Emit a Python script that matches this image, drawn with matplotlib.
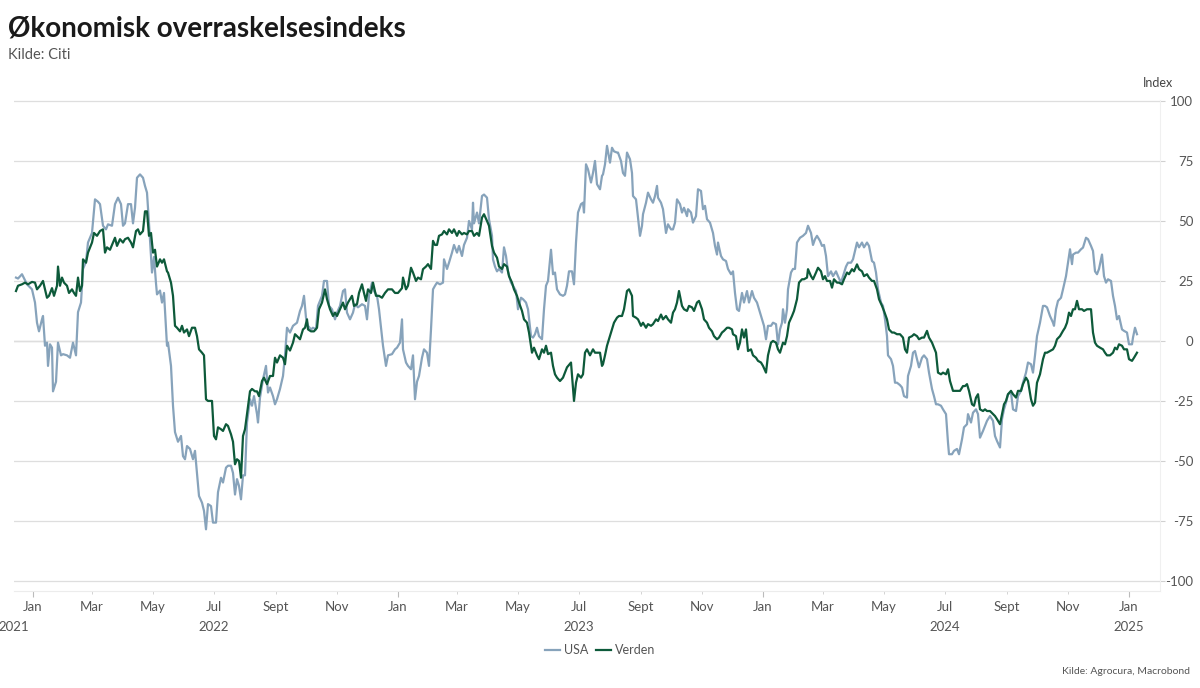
import matplotlib.pyplot as plt
import matplotlib.dates as mdates
import matplotlib.ticker as mticker
import pandas as pd

plt.rcParams['font.family'] = ['Lato', 'DejaVu Sans']

# Citi surprise index.
# (days since 2022-01-01, index value)
base = pd.Timestamp('2022-01-01')

usa_points = [
    (-17, 26.4), (-15, 26.0), (-11, 27.8), (-6, 23.6), (-1, 21.5), (2, 16.0), (4, 7.6), (6, 4.0),
    (9, 9.0), (10, 10.4), (12, -2.0), (14, -0.7), (15, -10.4), (17, -1.4), (19, -2.8), (20, -21.0),
    (23, -17.0), (25, -0.7), (28, -6.0), (30, -5.5), (34, -6.0), (37, -7.0), (40, -0.7), (43, -6.0),
    (45, 12.0), (48, 16.0), (50, 30.0), (53, 33.0), (55, 41.0), (59, 45.0), (62, 59.0), (65, 58.0),
    (67, 57.0), (70, 48.0), (73, 46.5), (75, 48.6), (79, 48.0), (82, 57.0), (85, 59.7), (88, 57.0),
    (90, 48.0), (92, 49.0), (95, 57.0), (98, 57.0), (100, 49.0), (102, 55.5), (104, 68.0), (107, 69.4),
    (110, 68.0), (112, 64.6), (114, 61.8), (116, 49.0), (118, 35.0), (119, 28.5), (121, 35.0),
    (123, 24.0), (124, 19.4), (127, 21.0), (129, 16.0), (131, 20.0), (134, -2.0), (135, -0.7),
    (138, -10.4), (140, -27.0), (142, -38.0), (145, -42.0), (148, -39.6), (150, -48.0), (152, -49.3),
    (154, -43.8), (157, -45.0), (160, -49.3), (162, -45.8), (164, -55.0), (166, -64.6), (169, -67.4),
    (171, -70.8), (173, -78.5), (175, -68.0), (178, -68.8), (180, -75.7), (183, -75.7), (185, -63.0),
    (188, -57.0), (190, -59.0), (193, -52.8), (195, -52.0), (198, -52.0), (200, -55.0), (202, -64.0),
    (204, -57.6), (206, -60.4), (208, -66.0), (210, -56.0), (212, -56.0), (214, -34.0), (217, -24.3),
    (219, -27.0), (221, -23.0), (224, -30.5), (225, -34.0), (227, -23.6), (230, -16.0), (233, -10.4),
    (235, -21.5), (237, -19.4), (240, -23.0), (242, -26.4), (244, -24.3), (247, -20.0), (250, -14.6),
    (252, -6.0), (254, 5.5), (257, 3.5), (260, 6.3), (264, 7.6),
    (267, 12.5), (269, 14.6), (271, 18.8), (273, 9.7), (275, 6.3), (278, 4.8), (280, 5.5), (283, 4.8),
    (285, 14.6), (289, 18.8), (291, 25.0), (294, 25.0), (296, 14.6), (299, 13.2), (302, 9.0),
    (304, 11.8), (307, 14.6), (310, 20.8), (312, 21.5), (314, 11.8), (317, 9.0), (320, 11.8),
    (322, 15.3), (325, 14.0), (329, 15.3), (332, 14.6), (334, 9.0), (336, 18.8), (339, 24.3),
    (341, 20.8), (344, 18.8), (346, 13.2), (349, 2.0), (350, -2.0), (353, -10.4), (355, -6.0),
    (359, -5.5), (362, -3.5), (364, -2.8), (367, -0.7), (369, 9.0), (370, -3.5), (373, -9.0),
    (375, -10.4), (378, -11.8), (380, -6.0), (382, -24.3), (384, -17.0), (386, -14.6), (389, -7.0),
    (391, -3.5), (394, -4.9), (396, -10.4), (398, 4.8), (400, 21.5), (402, 23.0), (404, 24.3),
    (407, 23.6), (410, 24.3), (411, 34.0), (414, 30.0), (416, 32.6), (419, 36.8), (421, 40.0),
    (424, 36.8), (426, 39.6), (429, 35.4), (431, 40.0), (434, 43.0), (436, 50.0), (439, 46.5),
    (440, 57.6), (441, 49.0), (444, 53.5), (446, 49.0), (449, 60.4), (451, 61.0), (454, 59.7),
    (456, 50.7), (459, 43.8), (460, 34.0), (462, 31.0), (464, 29.0), (466, 30.0), (469, 28.5),
    (471, 39.0), (473, 35.4), (475, 29.0), (478, 24.3), (480, 23.0), (483, 20.8), (485, 13.2),
    (488, 18.0), (490, 17.4), (493, 16.0), (495, 13.2), (498, 2.0), (500, 1.4), (502, 2.8), (504, 5.5),
    (506, 2.0), (509, 0.7), (511, 13.2), (513, 23.0), (515, 25.0), (518, 38.0), (520, 27.8),
    (522, 28.5), (524, 21.5), (527, 19.4), (530, 18.8), (532, 19.4), (534, 23.0), (536, 29.0),
    (539, 29.0), (541, 23.6), (543, 41.0), (545, 53.5), (548, 57.0), (550, 57.6), (551, 53.5),
    (553, 73.6), (555, 71.5), (558, 66.0), (560, 70.0), (562, 75.0), (564, 65.3),
    (567, 63.2), (569, 68.8), (570, 69.4), (572, 73.6), (574, 81.3), (575, 79.0), (577, 74.3),
    (579, 80.5), (581, 79.0), (584, 78.5), (585, 78.5), (588, 75.0), (590, 70.0), (592, 68.8),
    (594, 78.5), (597, 75.7), (599, 70.0), (600, 60.4), (603, 59.0), (605, 51.4), (607, 43.8),
    (609, 48.0), (610, 52.8), (613, 57.6), (615, 61.8), (618, 59.0), (620, 57.6), (622, 60.4),
    (624, 64.6), (625, 59.7), (628, 57.6), (630, 54.9), (633, 45.0), (635, 48.6), (638, 46.5),
    (640, 46.5), (642, 49.3), (644, 59.0), (647, 57.0), (649, 53.5), (651, 55.5), (654, 52.0),
    (655, 54.9), (658, 53.5), (660, 49.3), (663, 52.0), (665, 63.2), (668, 62.5), (670, 54.9),
    (672, 56.3), (674, 50.7), (677, 49.3), (680, 45.0), (682, 39.6), (684, 36.0), (685, 41.0),
    (688, 35.4), (690, 34.0), (693, 33.3), (695, 30.0), (698, 27.8), (700, 29.0), (702, 20.0),
    (704, 13.2), (706, 12.5), (709, 20.0), (711, 16.0), (714, 20.8), (716, 16.0), (719, 20.8),
    (721, 18.0), (724, 16.0), (726, 13.2), (729, 9.0), (731, 6.3), (733, 0.7), (735, 6.3), (738, 6.3),
    (740, 7.6), (743, 7.0), (745, -1.4), (747, 4.8), (749, 7.6), (750, 13.2), (752, 7.6), (754, 13.2),
    (755, 21.5), (758, 28.5), (760, 30.0), (762, 30.0), (764, 41.0), (767, 43.0), (770, 43.8),
    (773, 45.0), (775, 48.0), (778, 45.0), (780, 40.0), (782, 42.4), (784, 43.8), (787, 41.7),
    (789, 39.6), (791, 40.0), (793, 35.4), (795, 27.0), (798, 29.0), (800, 27.0), (803, 29.0),
    (805, 27.0), (808, 24.3), (810, 27.0), (813, 31.0), (815, 32.6), (818, 32.6), (820, 34.0),
    (822, 37.5), (824, 41.0), (826, 39.0), (829, 41.0), (831, 39.0), (834, 41.0), (836, 39.6),
    (839, 33.3), (841, 32.6), (843, 28.5), (845, 21.5), (848, 16.0), (850, 14.6), (852, 9.0),
    (854, 2.0), (855, -6.0), (858, -7.6), (860, -10.4), (862, -17.4), (864, -17.4),
    (867, -18.4), (869, -19.4), (871, -23.0), (874, -23.6), (875, -14.6), (878, -10.4), (880, -4.9),
    (882, -4.2), (884, -7.6), (886, -11.0), (889, -7.0), (891, -6.0), (894, -7.6), (896, -13.2),
    (899, -20.0), (901, -23.0), (903, -26.4), (905, -26.4), (908, -27.0), (910, -28.5), (913, -30.5),
    (915, -42.4), (916, -47.2), (919, -47.2), (921, -45.8), (924, -45.0), (926, -47.2), (929, -41.0),
    (931, -36.0), (934, -34.7), (935, -30.5), (938, -34.0), (940, -29.9), (943, -28.5), (945, -30.5),
    (947, -40.3), (950, -37.5), (952, -35.4), (954, -33.3), (957, -31.3), (960, -33.3), (962, -39.6),
    (964, -41.7), (967, -44.4), (969, -32.6), (971, -28.5), (973, -25.7), (975, -22.2), (978, -21.5),
    (980, -28.5), (983, -29.2), (985, -23.0), (988, -20.8), (990, -17.4), (993, -13.2), (995, -9.0),
    (998, -9.7), (1000, -13.2), (1002, -6.0), (1004, 2.0), (1007, 7.6), (1010, 14.6), (1012, 14.6),
    (1014, 14.0), (1017, 10.4), (1020, 7.6), (1021, 6.3), (1023, 13.2), (1025, 16.7), (1028, 18.0),
    (1030, 21.5), (1033, 27.0), (1035, 32.6), (1037, 38.2), (1039, 32.0), (1040, 36.0), (1043, 36.8),
    (1045, 36.8), (1048, 38.2), (1050, 38.9), (1053, 43.0), (1055, 42.4), (1058, 39.6), (1060, 37.5),
    (1062, 29.0), (1064, 27.8), (1066, 30.0), (1069, 36.0), (1071, 27.0), (1073, 24.3), (1075, 25.7),
    (1078, 25.0), (1080, 18.8), (1082, 14.6), (1084, 9.0), (1086, 10.4), (1089, 4.8), (1091, 4.2),
    (1094, 3.5), (1096, -1.4), (1099, -1.4), (1100, 1.4), (1102, 5.5), (1104, 2.8),
]

verden_points = [
    (-17, 20.8), (-15, 23.0), (-11, 23.6), (-8, 24.3), (-5, 23.6), (-1, 24.6), (2, 24.3), (4, 21.5),
    (7, 23.0), (10, 25.0), (14, 18.0), (16, 18.8), (19, 22.0), (21, 18.8), (24, 23.0), (25, 31.0),
    (27, 23.0), (29, 26.4), (31, 24.3), (34, 23.0), (36, 20.0), (39, 21.5), (41, 20.0), (43, 18.8),
    (45, 26.4), (47, 20.8), (49, 23.0), (50, 34.0), (53, 32.6), (55, 36.8), (59, 41.0), (61, 45.0),
    (64, 43.8), (67, 45.8), (70, 46.5), (72, 36.8), (74, 39.0), (77, 38.0), (80, 41.0), (82, 43.0),
    (84, 39.6), (87, 42.4), (90, 41.0), (92, 42.4), (95, 43.0), (98, 41.0), (100, 39.0), (103, 45.8),
    (105, 46.5), (107, 44.4), (110, 45.8), (112, 54.0), (114, 54.0), (116, 43.8), (118, 45.0),
    (120, 36.8), (122, 38.0), (124, 31.0), (127, 34.0), (129, 32.6), (131, 34.0), (134, 29.0),
    (135, 28.5), (138, 24.3), (140, 18.8), (142, 6.3), (144, 5.5), (147, 4.0), (149, 6.3), (151, 3.5),
    (154, 4.8), (156, 2.0), (159, 5.5), (162, 5.5), (164, 2.0), (166, -3.5), (169, -4.9), (171, -6.0),
    (173, -24.3), (175, -25.0), (179, -25.0), (181, -39.6), (183, -41.0), (185, -36.0), (188, -36.8),
    (190, -37.5), (193, -34.7), (195, -35.4), (198, -38.9), (200, -42.0), (202, -51.4), (204, -49.3),
    (206, -50.0), (208, -57.0), (210, -39.6), (212, -36.8), (214, -30.5), (217, -21.0), (219, -20.0),
    (222, -21.0), (224, -21.0), (226, -23.0), (229, -16.7), (231, -15.3), (234, -18.0), (237, -14.6),
    (240, -14.6), (242, -7.0), (244, -9.0), (247, -6.0), (250, -7.0), (252, -9.7), (254, -2.0),
    (257, -4.0), (260, -0.7), (262, 2.8), (264, 2.0),
    (267, 0.7), (270, 4.8), (272, 5.5), (274, 9.0), (275, 4.8), (278, 4.0), (281, 4.0), (284, 5.5),
    (286, 13.2), (289, 16.0), (292, 21.5), (294, 17.4), (297, 13.2), (300, 10.4), (302, 11.8),
    (304, 10.4), (307, 13.2), (310, 16.0), (312, 13.2), (315, 16.0), (319, 18.8), (321, 14.6),
    (324, 15.3), (326, 20.0), (329, 23.6), (331, 20.0), (333, 16.7), (335, 21.5), (338, 20.0),
    (340, 24.3), (343, 18.8), (346, 18.8), (349, 18.0), (352, 20.0), (355, 21.5), (359, 21.5),
    (362, 20.0), (365, 20.0), (369, 22.0), (370, 26.4), (373, 21.5), (375, 23.0), (378, 30.5),
    (380, 28.5), (383, 25.0), (385, 26.4), (388, 25.7), (390, 29.9), (393, 31.0), (395, 32.0),
    (398, 30.0), (400, 41.7), (402, 40.0), (404, 40.0), (406, 43.8), (409, 44.4), (411, 45.8),
    (414, 44.4), (416, 46.5), (419, 45.0), (421, 46.5), (424, 43.8), (426, 45.8), (429, 44.4),
    (431, 45.0), (434, 44.4), (436, 45.8), (439, 45.8), (441, 43.8), (444, 45.0), (446, 43.8),
    (449, 51.4), (451, 52.8), (454, 50.0), (456, 48.0), (459, 39.6), (461, 36.8), (464, 34.7),
    (466, 31.0), (469, 30.0), (471, 32.0), (474, 31.0), (476, 27.0), (479, 24.3), (481, 21.5),
    (484, 18.8), (486, 16.0), (489, 12.5), (491, 9.0), (494, 7.6), (496, 3.5), (499, -4.9),
    (501, -2.8), (504, -6.0), (506, -7.6), (509, -3.5), (511, -4.9), (513, -2.0), (515, -5.5),
    (518, -4.9), (520, -10.4), (522, -13.9), (524, -15.3), (527, -16.7), (530, -15.3), (532, -13.2),
    (534, -11.0), (538, -9.0), (540, -20.0), (541, -25.0), (543, -17.4), (545, -13.9), (548, -15.3),
    (550, -13.9), (552, -4.9), (554, -3.5), (557, -6.0), (560, -3.5), (562, -4.9), (564, -4.9),
    (567, -4.9), (569, -10.4), (570, -9.7), (572, -6.0), (574, -2.0), (576, 0.7), (579, 4.8),
    (581, 7.6), (584, 9.7), (586, 10.4), (589, 10.4), (591, 13.2), (594, 20.8), (596, 21.5),
    (599, 18.8), (600, 10.4), (603, 9.7), (605, 9.0), (608, 6.3), (610, 7.6), (613, 5.5), (615, 7.0),
    (618, 6.3), (620, 7.0), (623, 9.0), (625, 8.3), (628, 11.0), (630, 9.0), (633, 10.4), (635, 9.0),
    (638, 7.6), (640, 11.8), (642, 13.2), (644, 16.0), (646, 20.8), (649, 14.6), (651, 13.2),
    (654, 12.5), (656, 14.6), (659, 14.0), (661, 12.5), (664, 16.0), (666, 16.7), (669, 13.2),
    (671, 9.0), (674, 7.6), (676, 5.5), (679, 4.0), (681, 2.0), (684, 0.7), (686, 1.4), (689, 3.5),
    (691, 4.2), (694, 5.5), (696, 5.5), (699, 4.8), (700, 2.8), (703, 2.0), (705, -3.5), (707, -0.7),
    (709, 4.8), (711, 1.4), (713, 4.8), (715, -4.2), (718, -3.5), (720, -6.0), (723, -7.0),
    (725, -8.3), (728, -9.0), (730, -10.4), (733, -13.2), (735, -6.0), (738, -0.7), (740, 0.0),
    (743, -0.7), (745, -3.5), (747, -4.9), (750, -0.7), (752, -1.4), (754, 2.0), (756, 7.6),
    (759, 10.4), (761, 12.5), (764, 17.4), (766, 24.3), (769, 25.7), (771, 25.7), (774, 26.4),
    (775, 29.9), (778, 27.0), (780, 25.7), (783, 28.5), (785, 30.5), (788, 29.0), (790, 25.7),
    (792, 27.0), (794, 25.0), (797, 25.0), (799, 22.2), (801, 25.7), (804, 24.3), (806, 24.3),
    (809, 23.6), (811, 25.7), (814, 28.5), (816, 27.8), (819, 29.9), (821, 29.0), (824, 31.9),
    (826, 29.9), (829, 29.0), (831, 27.0), (834, 27.8), (836, 26.4), (839, 25.0), (841, 25.0),
    (844, 21.5), (846, 17.4), (849, 14.6), (851, 12.5), (854, 9.0), (856, 4.8), (859, 3.5),
    (861, 3.5), (864, 2.8),
    (867, 2.8), (870, 1.4), (872, -3.5), (874, -4.9), (876, 1.4), (879, 2.0), (881, 2.8), (884, 2.0),
    (886, 0.7), (889, 1.4), (891, 1.4), (894, 4.2), (896, 1.4), (899, -0.7), (901, -2.8), (903, -4.9),
    (905, -13.2), (908, -13.9), (910, -13.2), (913, -13.9), (915, -11.8), (917, -16.7), (920, -20.8),
    (922, -20.8), (924, -20.8), (927, -20.8), (930, -18.8), (932, -18.8), (934, -18.0), (936, -20.8),
    (939, -26.4), (941, -27.0), (943, -23.6), (945, -22.2), (947, -28.5), (950, -29.2), (952, -28.5),
    (954, -29.2), (957, -29.2), (960, -30.5), (962, -31.3), (964, -32.6), (967, -34.7), (969, -30.5),
    (971, -26.4), (973, -25.0), (975, -22.2), (978, -20.8), (980, -22.2), (983, -23.6), (985, -20.8),
    (988, -20.8), (990, -18.0), (993, -15.3), (995, -16.7), (998, -24.3), (1000, -27.0),
    (1002, -25.7), (1004, -17.4), (1007, -13.9), (1010, -7.6), (1012, -4.9), (1014, -4.9),
    (1017, -4.2), (1020, -3.5), (1022, -2.0), (1024, 0.7), (1027, 2.0), (1030, 4.2), (1032, 5.5),
    (1034, 7.6), (1036, 11.8), (1038, 10.4), (1040, 13.2), (1042, 13.2), (1044, 16.7), (1046, 13.2),
    (1049, 13.2), (1051, 12.5), (1054, 13.2), (1056, 13.2), (1058, 13.2), (1060, 3.5), (1062, -0.7),
    (1064, -2.0), (1067, -2.8), (1070, -3.5), (1072, -4.9), (1074, -6.0), (1077, -6.0), (1080, -4.9),
    (1082, -2.8), (1084, -3.5), (1086, -1.4), (1089, -2.0), (1091, -3.5), (1094, -3.5), (1096, -7.6),
    (1099, -8.3), (1101, -7.0), (1104, -4.9),
]

series_names = ['USA', 'Verden']
series_colors = ['#87a3bb', '#0d5a3a']
month_names = {1: 'Jan', 3: 'Mar', 5: 'May', 7: 'Jul', 9: 'Sept', 11: 'Nov'}
y_ticks = [-100, -75, -50, -25, 0, 25, 50, 75, 100]


def to_frame(points):
    df = pd.DataFrame(points, columns=['day', 'value'])
    df['date'] = base + pd.to_timedelta(df['day'], unit='D')
    return df


usa = to_frame(usa_points)
verden = to_frame(verden_points)

fig = plt.figure(figsize=(12, 6.88), dpi=100)
ax = fig.add_axes([14 / 1200, 1 - 591 / 688, (1160 - 14) / 1200, 491 / 688])

for df, name, color in zip([usa, verden], series_names, series_colors):
    ax.plot(df['date'], df['value'], color=color, lw=1.6, label=name,
            solid_joinstyle='round', zorder=3)

ax.set_xlim(base + pd.Timedelta(days=-19), base + pd.Timedelta(days=1127))
ax.set_ylim(-104.2, 100.4)

# y axis on the right, right-aligned labels
ax.yaxis.tick_right()
ax.set_yticks(y_ticks)
ax.yaxis.set_major_formatter(mticker.FuncFormatter(lambda v, p: f'{v:.0f}'))
ax.tick_params(axis='y', which='major', length=3.5, color='#d0d0d0', pad=20.5,
               labelsize=9.5, labelcolor='#555555')
for lab in ax.get_yticklabels():
    lab.set_horizontalalignment('right')
ax.grid(axis='y', color='#dedede', lw=0.9, zorder=0)
ax.axhline(0, color='#c4c4c4', lw=0.9, zorder=1)

# x axis: every second month, Jan ticks a bit longer
ax.xaxis.set_major_locator(mdates.MonthLocator(bymonth=[1]))
ax.xaxis.set_minor_locator(mdates.MonthLocator(bymonth=[3, 5, 7, 9, 11]))
fmt = mticker.FuncFormatter(lambda v, p: month_names[mdates.num2date(v).month])
ax.xaxis.set_major_formatter(fmt)
ax.xaxis.set_minor_formatter(fmt)
ax.tick_params(axis='x', which='major', length=4.5, color='#bbbbbb', pad=3,
               labelsize=9.5, labelcolor='#555555')
ax.tick_params(axis='x', which='minor', length=2.5, color='#cccccc', pad=5,
               labelsize=9.5, labelcolor='#555555')

for side in ['top', 'left']:
    ax.spines[side].set_visible(False)
ax.spines['bottom'].set_color('#ececec')
ax.spines['right'].set_color('#f0f0f0')

# year labels under the month labels
years = [('2021', base + pd.Timedelta(days=-19)), ('2022', pd.Timestamp('2022-07-01')),
         ('2023', pd.Timestamp('2023-07-01')), ('2024', pd.Timestamp('2024-07-01')),
         ('2025', pd.Timestamp('2025-01-01'))]
for label, when in years:
    ax.text(when, -0.073, label, transform=ax.get_xaxis_transform(), ha='center',
            va='center', fontsize=9.5, color='#555555')

fig.text(8 / 1200, 1 - 28 / 688, 'Økonomisk overraskelsesindeks', fontsize=20,
         fontweight='bold', color='#1a1a1a', va='center', ha='left')
fig.text(8 / 1200, 1 - 55 / 688, 'Kilde: Citi', fontsize=10.5, color='#555555',
         va='center', ha='left')
fig.text(1158 / 1200, 1 - 83 / 688, 'Index', fontsize=9, color='#444444',
         va='center', ha='center')
fig.text(1190 / 1200, 1 - 672 / 688, 'Kilde: Agrocura, Macrobond', fontsize=7.5,
         color='#555555', va='center', ha='right')

fig.legend(loc='center', bbox_to_anchor=(0.5, 1 - 650 / 688), ncol=2, frameon=False,
           handlelength=1.2, handletextpad=0.3, columnspacing=0.6, fontsize=9,
           labelcolor='#555555')

fig.savefig('out.png', dpi=100)
